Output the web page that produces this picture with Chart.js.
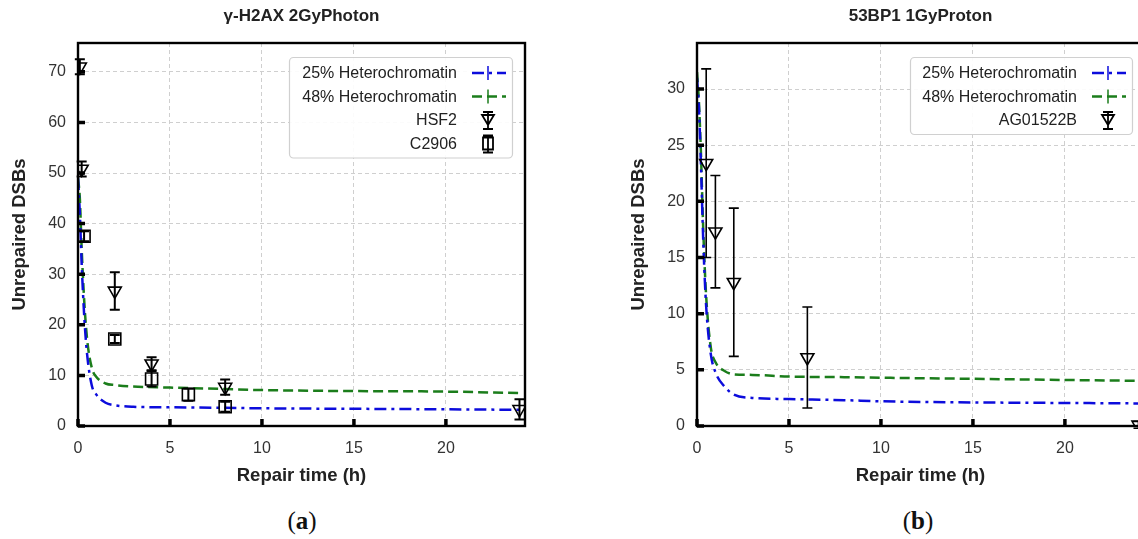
<!DOCTYPE html>
<html lang="en">
<head>
<meta charset="UTF-8">
<title>Unrepaired DSBs</title>
<script src="https://cdn.jsdelivr.net/npm/chart.js"></script>
<style>
    body{margin:0;width:1138px;height:539px;overflow:hidden;background:#fff;position:relative;}
    .box{position:absolute;top:0;width:569px;height:500px;}
    .cap{position:absolute;top:504px;width:100px;text-align:center;line-height:34px;
         font-family:"Liberation Serif","Times New Roman",serif;font-size:25px;color:#111;}
</style>
</head>
<body>
<div class="box" style="left:0"><canvas id="chartA"></canvas></div>
<div class="box" style="left:619px"><canvas id="chartB"></canvas></div>
<div class="cap" style="left:252px">(<b>a</b>)</div>
<div class="cap" style="left:868px">(<b>b</b>)</div>

<script>
// (a) γ-H2AX 2GyPhoton
const fitTimesA = [0, 0.1, 0.2, 0.35, 0.5, 0.75, 1, 1.5, 2, 3, 5, 8, 10, 15, 20, 24];
const fitA25 = [49, 42, 32, 21, 14, 8, 6.2, 4.6, 4.1, 3.8, 3.7, 3.6, 3.5, 3.4, 3.3, 3.2];
const fitA48 = [49, 45, 35, 24, 17, 11.5, 9.7, 8.4, 8.1, 7.8, 7.6, 7.3, 7.1, 6.9, 6.8, 6.5];
const hsf2Time = [0.1, 0.2, 2, 4, 8, 24];
const hsf2Val = [71, 50.8, 26.7, 12.3, 7.7, 3.3];
const hsf2Err = [1.5, 1.5, 3.7, 1.3, 1.5, 2];
const c2906Time = [0.33, 2, 4, 6, 8];
const c2906Val = [37.5, 17.2, 9.3, 6.2, 3.8];
const c2906Err = [1, 0.8, 1.5, 1.2, 1];

// (b) 53BP1 1GyProton
const fitTimesB = [0, 0.1, 0.2, 0.35, 0.5, 0.75, 1, 1.5, 2, 3, 5, 8, 10, 15, 20, 25];
const fitB25 = [31, 28.5, 24, 16, 10.6, 6.4, 4.8, 3.5, 2.8, 2.5, 2.4, 2.3, 2.2, 2.1, 2.05, 2.0];
const fitB48 = [31.5, 29, 25, 17, 11.5, 7, 5.7, 4.9, 4.6, 4.55, 4.4, 4.35, 4.3, 4.2, 4.1, 4.0];
const agTime = [0.5, 1, 2, 6, 24];
const agVal = [23.4, 17.3, 12.8, 6.1, 0.1];
const agErr = [8.4, 5, 6.6, 4.5, 0.3];

const BLUE = '#0c0cdc';
const GREEN = '#1b7d1b';
const FONT = '"Liberation Sans", Arial, sans-serif';

function pts(xs, ys){ return xs.map((x, i) => ({x: x, y: ys[i]})); }

function fitLine(label, xs, ys, color, dash){
    return {label: label, data: pts(xs, ys), borderColor: color, borderWidth: 2.5,
            borderDash: dash, pointRadius: 0, showLine: true, fill: false,
            tension: 0.35, cubicInterpolationMode: 'monotone', order: 2,
            legendKind: 'line'};
}
function marks(label, xs, ys, err, style){
    return {label: label, data: pts(xs, ys), errors: err, showLine: false,
            pointStyle: style === 'tri' ? 'triangle' : 'rect', rotation: style === 'tri' ? 180 : 0,
            pointRadius: style === 'tri' ? 7.5 : 8.5, pointBorderWidth: 1.6,
            pointBorderColor: '#000', pointBackgroundColor: 'rgba(0,0,0,0)',
            borderColor: '#000', backgroundColor: 'rgba(0,0,0,0)', order: 1,
            legendKind: style};
}

// title over the plot, error bars, frame, inner ticks and the boxed legend
const decorPlugin = {
    id: 'decor',
    afterDatasetsDraw(chart, args, opts){
        const ctx = chart.ctx, a = chart.chartArea;
        const xs = chart.scales.x, ys = chart.scales.y;
        ctx.save();
        // title centred on the plot area
        ctx.fillStyle = '#222';
        ctx.font = 'bold 17px ' + FONT;
        ctx.textAlign = 'center';
        ctx.textBaseline = 'middle';
        ctx.fillText(opts.title, (a.left + a.right) / 2, 16);
        // error bars
        ctx.strokeStyle = '#000';
        ctx.lineWidth = opts.barWidth;
        ctx.setLineDash([]);
        chart.data.datasets.forEach(ds => {
            if (!ds.errors) return;
            ds.data.forEach((p, i) => {
                const px = xs.getPixelForValue(p.x);
                const hi = ys.getPixelForValue(p.y + ds.errors[i]);
                const lo = ys.getPixelForValue(p.y - ds.errors[i]);
                ctx.beginPath();
                ctx.moveTo(px, hi); ctx.lineTo(px, lo);
                ctx.moveTo(px - 5, hi); ctx.lineTo(px + 5, hi);
                ctx.moveTo(px - 5, lo); ctx.lineTo(px + 5, lo);
                ctx.stroke();
            });
        });
        // frame
        ctx.lineWidth = 2.4;
        ctx.strokeRect(a.left, a.top, a.right - a.left, a.bottom - a.top);
        // inner ticks
        ctx.lineWidth = 3.5;
        ctx.beginPath();
        ys.ticks.forEach(t => {
            const py = ys.getPixelForValue(t.value);
            ctx.moveTo(a.left, py); ctx.lineTo(a.left + 7, py);
        });
        xs.ticks.forEach(t => {
            const px = xs.getPixelForValue(t.value);
            ctx.moveTo(px, a.bottom); ctx.lineTo(px, a.bottom - 7);
        });
        ctx.stroke();

        // legend
        const L = opts.legend;
        const items = chart.data.datasets;
        const right = a.right - L.gap;
        const left = right - L.width;
        const h = 16 + (items.length - 1) * L.rowH + 14;
        ctx.beginPath();
        ctx.roundRect(left + 0.5, L.top + 0.5, L.width, h, 4);
        ctx.fillStyle = 'rgba(255,255,255,0.9)';
        ctx.fill();
        ctx.strokeStyle = '#d0d0d0';
        ctx.lineWidth = 1.2;
        ctx.stroke();
        ctx.font = '16px ' + FONT;
        ctx.textAlign = 'right';
        ctx.textBaseline = 'middle';
        items.forEach((ds, i) => {
            const y = L.top + 16 + i * L.rowH;
            ctx.fillStyle = '#222';
            ctx.fillText(ds.label, right - 55, y + 1);
            const sx = right - 24;
            ctx.setLineDash([]);
            if (ds.legendKind === 'line'){
                ctx.strokeStyle = ds.borderColor;
                ctx.lineWidth = 2.5;
                ctx.setLineDash(ds.borderDash);
                ctx.beginPath(); ctx.moveTo(sx - 16, y); ctx.lineTo(sx + 18, y); ctx.stroke();
                ctx.setLineDash([]);
                ctx.lineWidth = 1.5;
                ctx.beginPath(); ctx.moveTo(sx, y - 7); ctx.lineTo(sx, y + 7); ctx.stroke();
            } else {
                ctx.strokeStyle = '#000';
                ctx.lineWidth = 1.8;
                ctx.beginPath();
                if (ds.legendKind === 'tri'){
                    ctx.moveTo(sx - 6, y - 5); ctx.lineTo(sx + 6, y - 5); ctx.lineTo(sx, y + 5); ctx.closePath();
                } else {
                    ctx.rect(sx - 5, y - 6, 10, 12);
                }
                ctx.moveTo(sx, y - 8); ctx.lineTo(sx, y + 9);
                ctx.moveTo(sx - 5, y + 9); ctx.lineTo(sx + 5, y + 9);
                ctx.moveTo(sx - 5, y - 8); ctx.lineTo(sx + 5, y - 8);
                ctx.stroke();
            }
        });
        ctx.restore();
    }
};

function axisOpts(min, max, step, titleText, isX){
    return {
        type: 'linear', min: min, max: max,
        afterBuildTicks: s => { s.ticks = s.ticks.filter(t => Math.abs(t.value / step - Math.round(t.value / step)) < 1e-6); },
        afterFit: s => { if (isX) s.height = 74; else s.width = 78; },
        ticks: {stepSize: step, padding: isX ? 13 : 12, color: '#333', font: {family: FONT, size: 16}},
        grid: {color: '#cfcfcf', lineWidth: 1, drawTicks: false},
        border: {display: false, dash: [4, 3]},
        title: {display: true, text: titleText, color: '#222',
                font: {family: FONT, size: 18.5, weight: 'bold'},
                padding: isX ? {top: 0, bottom: 12.5} : {top: 8.5, bottom: 0}}
    };
}

function drawChart(id, title, datasets, yMax, yStep, legendOpts){
    new Chart(document.getElementById(id), {
        type: 'scatter',
        data: {datasets: datasets},
        options: {
            responsive: true, maintainAspectRatio: false, animation: false,
            layout: {padding: {left: 0, right: 44, top: 43, bottom: 0}},
            scales: {
                x: axisOpts(0, 24.3, 5, 'Repair time (h)', true),
                y: axisOpts(0, yMax, yStep, 'Unrepaired DSBs', false)
            },
            plugins: {
                legend: {display: false},
                tooltip: {enabled: false},
                title: {display: false},
                decor: {title: title, barWidth: id === 'chartA' ? 2 : 1.6, legend: legendOpts}
            }
        },
        plugins: [decorPlugin]
    });
}

drawChart('chartA', 'γ-H2AX 2GyPhoton', [
    fitLine('25% Heterochromatin', fitTimesA, fitA25, BLUE, [12, 5, 3, 5]),
    fitLine('48% Heterochromatin', fitTimesA, fitA48, GREEN, [10, 5]),
    marks('HSF2', hsf2Time, hsf2Val, hsf2Err, 'tri'),
    marks('C2906', c2906Time, c2906Val, c2906Err, 'sq')
], 75.7, 10, {gap: 13, width: 223, top: 57, rowH: 23.5});

drawChart('chartB', '53BP1 1GyProton', [
    fitLine('25% Heterochromatin', fitTimesB, fitB25, BLUE, [12, 5, 3, 5]),
    fitLine('48% Heterochromatin', fitTimesB, fitB48, GREEN, [10, 5]),
    marks('AG01522B', agTime, agVal, agErr, 'tri')
], 34.1, 5, {gap: 12, width: 222, top: 57, rowH: 23.5});
</script>
</body>
</html>
